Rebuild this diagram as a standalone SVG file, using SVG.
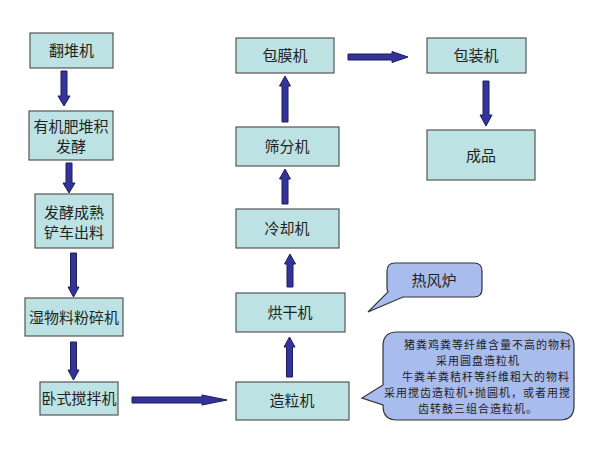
<svg xmlns="http://www.w3.org/2000/svg" width="600" height="450" viewBox="0 0 600 450">
<style>
.box{fill:#BCE2E4;stroke:#555;stroke-width:1.2}
.t{font-family:"Noto Sans CJK SC","Liberation Sans",sans-serif;font-size:15px;fill:#222;text-anchor:middle}
.ct{font-family:"Noto Sans CJK SC","Liberation Sans",sans-serif;font-size:11px;letter-spacing:1px;fill:#222}
.arr{fill:#333399;stroke:#1c1c5e;stroke-width:1}
.call{fill:#A9BCEE;stroke:#333;stroke-width:1.2}
</style>
<rect width="600" height="450" fill="#fff"/>
<g id="connectors">
<polygon class="arr" points="61,71 67,71 67,96 70,96 64,106 58,96 61,96"/>
<polygon class="arr" points="66,163 72,163 72,183 75,183 69,193 63,183 66,183"/>
<polygon class="arr" points="70.5,253 76.5,253 76.5,287 79,287 73.5,297 68,287 70.5,287"/>
<polygon class="arr" points="70.5,342 76.5,342 76.5,370 79,370 73.5,380 68,370 70.5,370"/>
<polygon class="arr" points="132,397 202,397 202,395 227,400 202,405 202,403 132,403"/>
<polygon class="arr" points="286.5,377 292.5,377 292.5,347 295,347 289.5,337 284,347 286.5,347"/>
<polygon class="arr" points="287,287 293,287 293,264 295.5,264 290,254 284.5,264 287,264"/>
<polygon class="arr" points="282,204 288,204 288,179 290.5,179 285,169 279.5,179 282,179"/>
<polygon class="arr" points="282,122 288,122 288,86 290.5,86 285,76 279.5,86 282,86"/>
<polygon class="arr" points="348,54 392,54 392,51.5 408,57 392,62.5 392,60 348,60"/>
<polygon class="arr" points="483,81 489,81 489,115 492,115 486,126 480,115 483,115"/>
</g>
<g id="n1"><rect class="box" x="30" y="33" width="83" height="35"/><text class="t" x="71.5" y="56">翻堆机</text></g>
<g id="n2"><rect class="box" x="29" y="111" width="84" height="49"/><text class="t" x="71" y="132">有机肥堆积</text><text class="t" x="71" y="152">发酵</text></g>
<g id="n3"><rect class="box" x="35" y="194" width="78" height="54"/><text class="t" x="74" y="218">发酵成熟</text><text class="t" x="74" y="238">铲车出料</text></g>
<g id="n4"><rect class="box" x="25" y="298" width="98" height="38"/><text class="t" x="74" y="323">湿物料粉碎机</text></g>
<g id="n5"><rect class="box" x="40" y="382" width="78" height="33"/><text class="t" x="79" y="404">卧式搅拌机</text></g>
<g id="n6"><rect class="box" x="236" y="382" width="113" height="38"/><text class="t" x="292" y="406">造粒机</text></g>
<g id="n7"><rect class="box" x="236" y="293" width="109" height="39"/><text class="t" x="290" y="318">烘干机</text></g>
<g id="n8"><rect class="box" x="236" y="209" width="103" height="39"/><text class="t" x="287" y="234">冷却机</text></g>
<g id="n9"><rect class="box" x="236" y="127" width="103" height="39"/><text class="t" x="287" y="152">筛分机</text></g>
<g id="n10"><rect class="box" x="236" y="38" width="98" height="35"/><text class="t" x="285" y="61">包膜机</text></g>
<g id="n11"><rect class="box" x="427" y="38" width="99" height="35"/><text class="t" x="476" y="61">包装机</text></g>
<g id="n12"><rect class="box" x="427" y="130" width="108" height="50"/><text class="t" x="481" y="161">成品</text></g>
<g id="c1">
<path class="call" d="M395,263 H474 Q482,263 482,271 V289 Q482,297 474,297 H403 L368,312 L388,292 Q387,290 387,288 V271 Q387,263 395,263 Z"/>
<text class="t" x="434" y="286">热风炉</text>
</g>
<g id="c2">
<path class="call" d="M397,332 H560 Q574,332 574,346 V406 Q574,420 560,420 H397 Q383,420 383,406 V405 L362,398 L383,385 V346 Q383,332 397,332 Z"/>
<text class="ct" x="404" y="349">猪粪鸡粪等纤维含量不高的物料</text>
<text class="ct" x="436" y="365">采用圆盘造粒机</text>
<text class="ct" x="402" y="381">牛粪羊粪秸秆等纤维粗大的物料</text>
<text class="ct" x="384" y="397">采用搅齿造粒机+抛圆机，或者用搅</text>
<text class="ct" x="418" y="413">齿转鼓三组合造粒机。</text>
</g>
</svg>
